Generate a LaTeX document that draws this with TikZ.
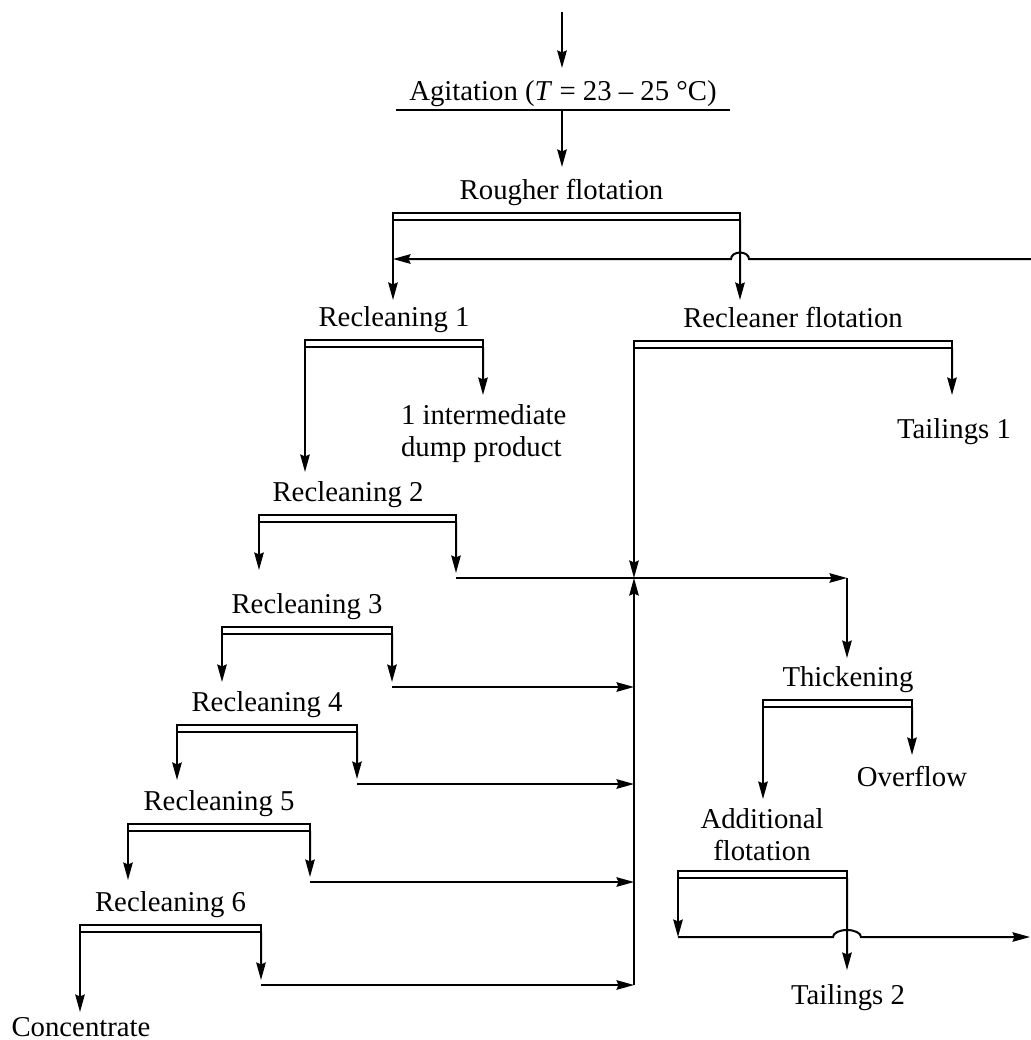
\documentclass[tikz,border=0pt]{standalone}
\usepackage{fontspec}
\setmainfont{Liberation Serif}
\usetikzlibrary{arrows.meta,positioning}

\begin{document}
\begin{tikzpicture}[
      x=0.4pt, y=-0.4pt,
      line width=0.8pt,
      stage/.style={
         inner sep=0pt,
         text depth=2.5pt,
         font=\fontsize{11.5}{12.8}\selectfont},
      product/.style={
         inner sep=0pt,
         anchor=base,
         font=\fontsize{11.5}{12.8}\selectfont},
      cellbar/.style={
         draw,
         rectangle,
         inner sep=0pt,
         outer sep=0pt,
         minimum height=2.8pt,
         anchor=north west},
      myarrow/.style={-{Stealth[length=7pt,width=3.8pt,inset=0.8pt]}}
      ]
      \useasboundingbox (0,0) rectangle (1031,1040);

      % machines (double bars)
      \node[cellbar,minimum width=138.8pt] (b0) at (393,213) {};
      \node[cellbar,minimum width=71.2pt] (b1) at (305,340) {};
      \node[cellbar,minimum width=127.2pt] (bf) at (634,341) {};
      \node[cellbar,minimum width=78.8pt] (b2) at (259,515) {};
      \node[cellbar,minimum width=68pt] (b3) at (222,627) {};
      \node[cellbar,minimum width=72pt] (b4) at (177,725) {};
      \node[cellbar,minimum width=72.8pt] (b5) at (128,824) {};
      \node[cellbar,minimum width=72.4pt] (b6) at (80,925) {};
      \node[cellbar,minimum width=59.6pt] (bt) at (763,700) {};
      \node[cellbar,minimum width=67.6pt] (ba) at (678,871) {};

      % stage names
      \node[product] (agit) at (563,100) {Agitation (\textit{T} = 23 -- 25 °C)};
      \node[stage,above=2.7pt of b0,xshift=-2pt] (rough) {Rougher flotation};
      \node[stage,above=2.7pt of b1] (r1) {Recleaning 1};
      \node[stage,above=2.7pt of bf] (rcf) {Recleaner flotation};
      \node[stage,above=2.7pt of b2,xshift=-3.8pt] (r2) {Recleaning 2};
      \node[stage,above=2.7pt of b3] (r3) {Recleaning 3};
      \node[stage,above=2.7pt of b4] (r4) {Recleaning 4};
      \node[stage,above=2.7pt of b5] (r5) {Recleaning 5};
      \node[stage,above=2.7pt of b6] (r6) {Recleaning 6};
      \node[stage,above=2.7pt of bt,xshift=4.2pt] (thick) {Thickening};
      \node[product,align=center,anchor=north] (addf) at (762,808) {Additional\\flotation};

      % products
      \node[product,align=left,anchor=north west] (dump) at (400,404) {1 intermediate\\dump product};
      \node[product] (tail1) at (954,438) {Tailings 1};
      \node[product] (overflow) at (912,786) {Overflow};
      \node[product] (tail2) at (848,1004) {Tailings 2};
      \node[product] (conc) at (81,1036) {Concentrate};

      % arrow ends and corners
      \coordinate (feed) at (562,12);
      \coordinate (agitin) at (562,68);
      \coordinate (agitL) at (396,110);
      \coordinate (agitR) at (730,110);
      \coordinate (agitout) at (562,110);
      \coordinate (roughin) at (562,167);
      \coordinate (in1) at (393,300);
      \coordinate (rcfin) at (740,300);
      \coordinate (recycle) at (1031,259);
      \coordinate (in2) at (305,472);
      \coordinate (dumpin) at (483,395);
      \coordinate (tail1in) at (952,395);
      \coordinate (jct) at (634,578);
      \coordinate (in3) at (259,570);
      \coordinate (in4) at (222,682);
      \coordinate (in5) at (177,780);
      \coordinate (in6) at (128,880);
      \coordinate (concin) at (80,1012);
      \coordinate (out2) at (456,578);
      \coordinate (out3) at (392,687);
      \coordinate (out4) at (357,784);
      \coordinate (out5) at (310,882);
      \coordinate (out6) at (261,985);
      \coordinate (thickin) at (847,658);
      \coordinate (addfin) at (763,799);
      \coordinate (ovfin) at (912,755);
      \coordinate (addfout) at (678,937);
      \coordinate (tail2in) at (847,970);
      \coordinate (exit) at (1030,937);

      % feed, agitation, rougher
      \draw[myarrow] (feed) -- (agitin);
      \draw (agitL) -- (agitR);
      \draw[myarrow] (agitout) -- (roughin);
      \draw[myarrow] (b0.south west) -- (in1);
      \draw[myarrow] (b0.south east) -- (rcfin);
      \draw[myarrow] (recycle) -- ([xshift=3.6pt]b0.south east |- recycle)
         arc[start angle=0,end angle=180,x radius=3.6pt,y radius=2.6pt]
         -- (b0.south west |- recycle);

      % recleaning chain
      \foreach \i/\j in {1/2,2/3,3/4,4/5,5/6}
         \draw[myarrow] (b\i.south west) -- (in\j);
      \draw[myarrow] (b6.south west) -- (concin);
      \draw[myarrow] (b1.south east) -- (dumpin);
      \foreach \i in {2,...,6}
         \draw[myarrow,shorten >=2pt] (b\i.south east) -- (out\i);
      \foreach \i in {3,...,6}
         \draw[myarrow] (out\i) -- (out\i -| jct);

      % recleaner flotation and collecting line
      \draw[myarrow] (bf.south west) -- (jct);
      \draw[myarrow] (bf.south east) -- (tail1in);
      \draw[myarrow] (out6 -| jct) -- (jct);
      \draw[myarrow] (out2) -- (out2 -| thickin);
      \draw[myarrow] (out2 -| thickin) -- (thickin);

      % thickening and additional flotation
      \draw[myarrow] (bt.south west) -- (addfin);
      \draw[myarrow] (bt.south east) -- (ovfin);
      \draw[myarrow] (ba.south west) -- (addfout);
      \draw[myarrow] (ba.south east) -- (tail2in);
      \draw[myarrow] (addfout) -- ([xshift=-5.6pt]ba.south east |- addfout)
         arc[start angle=180,end angle=0,x radius=5.6pt,y radius=2.8pt]
         -- (exit);
\end{tikzpicture}
\end{document}
